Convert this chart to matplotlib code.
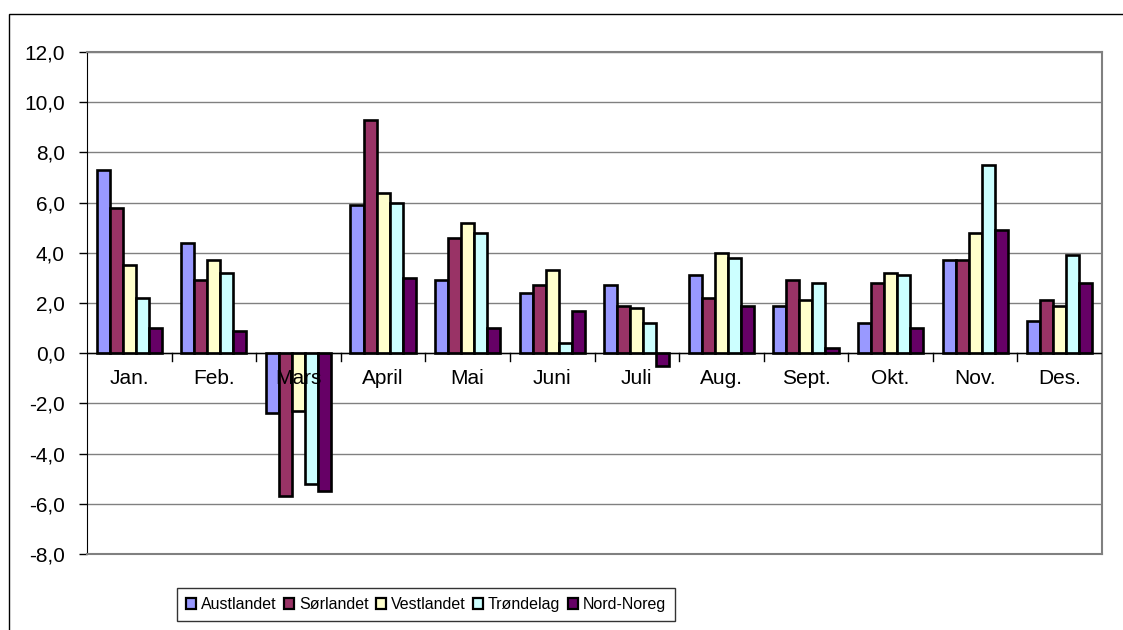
import numpy as np
import matplotlib
matplotlib.use("Agg")
import matplotlib.pyplot as plt
from matplotlib.patches import Rectangle

plt.rcParams["font.family"] = ["Liberation Sans", "DejaVu Sans"]

months = ["Jan.", "Feb.", "Mars", "April", "Mai", "Juni", "Juli", "Aug.",
          "Sept.", "Okt.", "Nov.", "Des."]
regions = ["Austlandet", "Sørlandet", "Vestlandet", "Trøndelag", "Nord-Noreg"]

austlandet = [7.3, 4.4, -2.4, 5.9, 2.9, 2.4, 2.7, 3.1, 1.9, 1.2, 3.7, 1.3]
sorlandet = [5.8, 2.9, -5.7, 9.3, 4.6, 2.7, 1.9, 2.2, 2.9, 2.8, 3.7, 2.1]
vestlandet = [3.5, 3.7, -2.3, 6.4, 5.2, 3.3, 1.8, 4.0, 2.1, 3.2, 4.8, 1.9]
trondelag = [2.2, 3.2, -5.2, 6.0, 4.8, 0.4, 1.2, 3.8, 2.8, 3.1, 7.5, 3.9]
nord_noreg = [1.0, 0.9, -5.5, 3.0, 1.0, 1.7, -0.5, 1.9, 0.2, 1.0, 4.9, 2.8]

series = [austlandet, sorlandet, vestlandet, trondelag, nord_noreg]
colors = ["#9999FF", "#993366", "#FFFFCC", "#CCFFFF", "#660066"]

fig = plt.figure(figsize=(11.23, 6.30), dpi=100)
# outer chart frame
fig.patches.append(Rectangle((9 / 1123, -0.01), 1.02, (630 - 14) / 630 + 0.01,
                             transform=fig.transFigure, fill=False,
                             edgecolor="#000000", linewidth=1.0))
ax = fig.add_axes([87 / 1123, (630 - 554) / 630, (1102 - 87) / 1123, (554 - 52) / 630])

x = np.arange(len(months))
w = 0.154
for i, (vals, c, lab) in enumerate(zip(series, colors, regions)):
    ax.bar(x + (i - 2) * w, vals, w, color=c, edgecolor="black", linewidth=1.9,
           label=lab, zorder=3)

ax.set_xlim(-0.5, len(months) - 0.5)
ax.set_ylim(-8, 12)
ax.set_yticks(np.arange(-8, 13, 2))
ax.set_yticklabels([f"{v:.1f}".replace(".", ",") for v in np.arange(-8, 13, 2)],
                   fontsize=15)
ax.tick_params(axis="y", direction="out", length=6, width=1, pad=10)
ax.set_xticks([])
ax.grid(axis="y", color="#808080", linewidth=1, zorder=0)

# zero line with category ticks
ax.axhline(0, color="black", linewidth=1, zorder=4)
for b in np.arange(0.5, len(months) - 0.5, 1):
    ax.plot([b, b], [0, -0.3], color="black", linewidth=1, zorder=4)
for xi, m in zip(x, months):
    ax.text(xi, -1.0, m, ha="center", va="center", fontsize=15, zorder=5)

for s in ["top", "right", "bottom"]:
    ax.spines[s].set_color("#808080")
    ax.spines[s].set_linewidth(1.5)
ax.spines["left"].set_color("black")

leg = fig.legend(loc="lower left", bbox_to_anchor=(177 / 1123, 9 / 630), ncol=5,
                 fontsize=11.5, frameon=True, fancybox=False, edgecolor="black",
                 handlelength=0.65, handleheight=0.65, handletextpad=0.3,
                 columnspacing=0.45, borderpad=0.55, borderaxespad=0)
leg.get_frame().set_linewidth(1.0)
for h in leg.legend_handles:
    h.set_linewidth(1.6)

fig.savefig("out.png", dpi=100)
